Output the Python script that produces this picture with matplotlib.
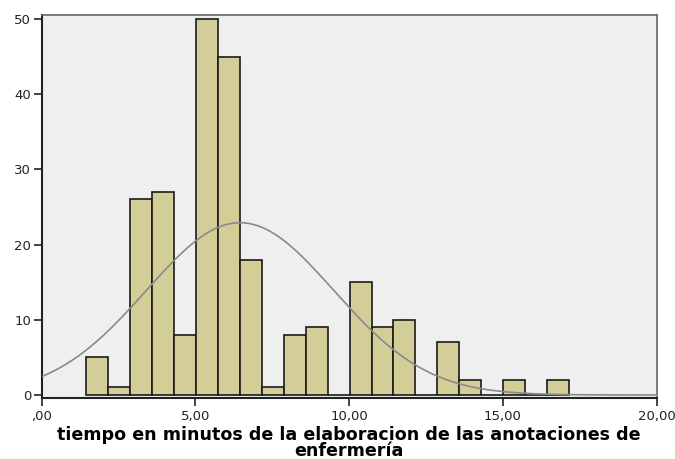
import matplotlib.pyplot as plt
import numpy as np

# histograma: frecuencias por intervalo
counts = [5, 1, 26, 27, 8, 50, 45, 18, 1, 8, 9, 0, 15, 9, 10, 0, 7, 2, 0, 2, 0, 2]
bin_start = 1.43
bin_width = 0.715
mean_t = 6.45
sd_t = 3.05
xticks = [0, 5, 10, 15, 20]
xticklabels = [",00", "5,00", "10,00", "15,00", "20,00"]
yticks = [0, 10, 20, 30, 40, 50]
xlabel = "tiempo en minutos de la elaboracion de las anotaciones de\nenfermería"

edges = bin_start + bin_width * np.arange(len(counts))
n_total = sum(counts)

fig = plt.figure(figsize=(6.75, 4.59), dpi=100)
ax = fig.add_axes([0.0618, 0.1329, 0.9111, 0.8338])
ax.set_facecolor("#efefef")

ax.bar(edges, counts, width=bin_width, align="edge", color="#d3ce97",
       edgecolor="#1a1a1a", linewidth=1.2, zorder=2)

# curva normal
xc = np.linspace(0, 20, 400)
yc = n_total * bin_width / (sd_t * np.sqrt(2 * np.pi)) * np.exp(-(xc - mean_t) ** 2 / (2 * sd_t ** 2))
ax.plot(xc, yc, color="#8a8a8a", linewidth=1.2, zorder=3)

ax.set_xlim(0, 20)
ax.set_ylim(-0.4, 50.5)
ax.set_xticks(xticks)
ax.set_xticklabels(xticklabels)
ax.set_yticks(yticks)
ax.tick_params(axis="both", direction="out", length=6, width=1.2, labelsize=9.5, colors="#222222")
ax.tick_params(axis="x", pad=2.5)
ax.tick_params(axis="y", pad=1.5)

for s in ["left", "bottom"]:
    ax.spines[s].set_color("#222222")
    ax.spines[s].set_linewidth(1.5)
for s in ["top", "right"]:
    ax.spines[s].set_color("#666666")
    ax.spines[s].set_linewidth(1.2)

ax.set_xlabel(xlabel, fontsize=12.6, fontweight="bold", labelpad=2.5, linespacing=0.82)

fig.savefig("out.png", dpi=100)
